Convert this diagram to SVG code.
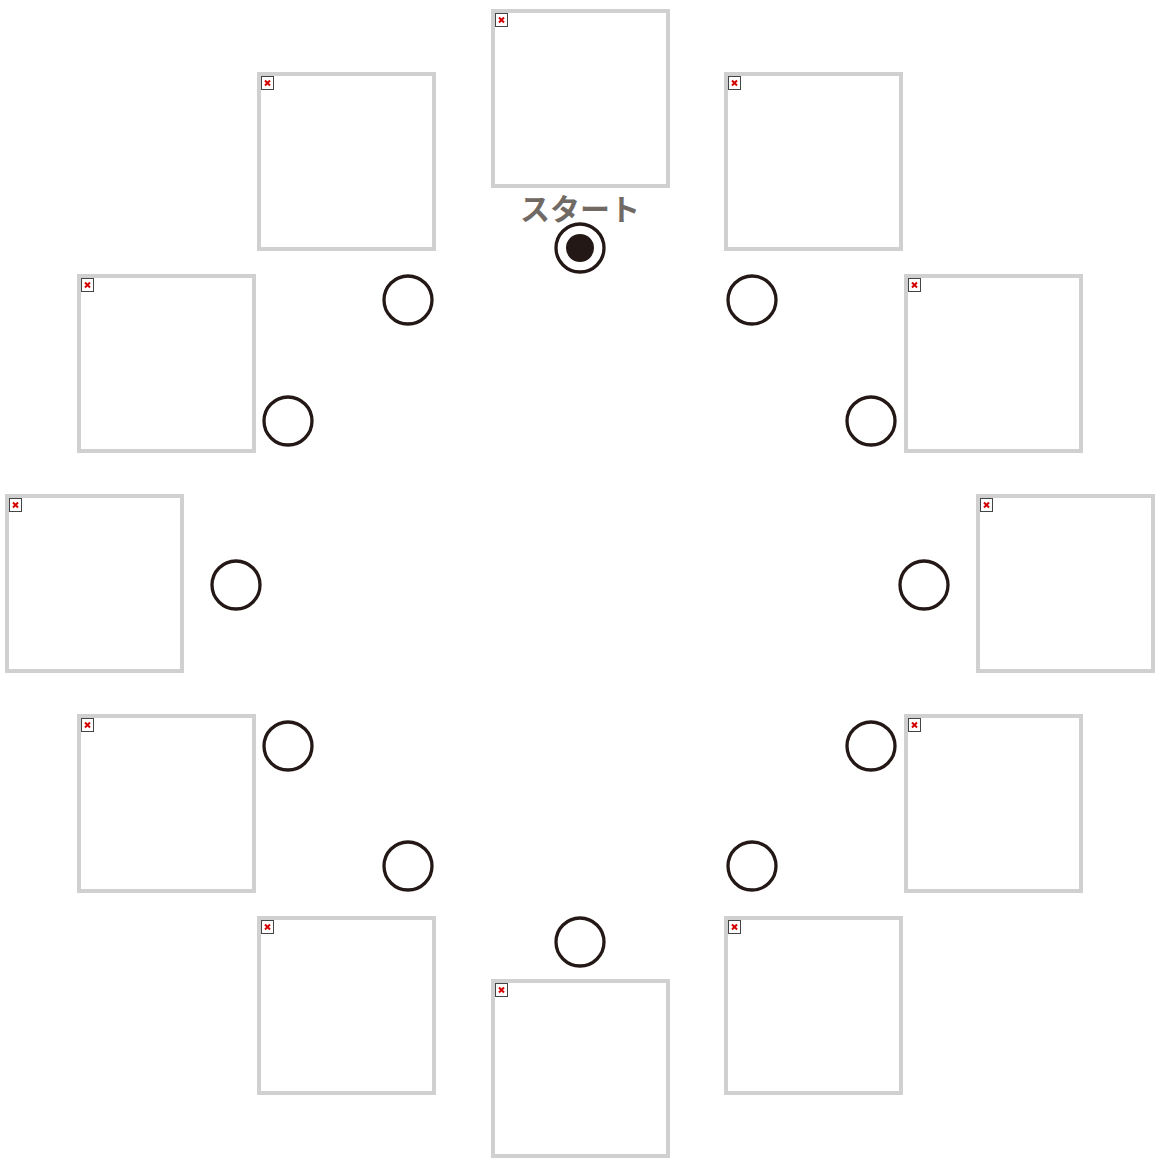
<svg xmlns="http://www.w3.org/2000/svg" width="1155" height="1158" viewBox="0 0 1155 1158">
<style>
.box{fill:#fff;stroke:#d0d0d0;stroke-width:4}
.ico{fill:#fff;stroke:#444;stroke-width:1}
.x{stroke:#d40000;stroke-width:2}
.c{fill:#fff;stroke:#231815;stroke-width:3.3}
.lbl{font-family:"Noto Sans CJK JP","Noto Sans",sans-serif;font-weight:700;font-size:30px;fill:#716a64}
</style>
<defs>
<g id="img">
<rect class="box" x="2" y="2" width="175" height="175"/>
<rect class="ico" x="4.5" y="4.5" width="12" height="13"/>
<path class="x" d="M8 8.5l5 5M13 8.5l-5 5"/>
</g>
</defs>
<rect width="1155" height="1158" fill="#fff"/>
<g id="nodes">
<g id="box-top"><use href="#img" x="491" y="9"/></g>
<g id="box-ul"><use href="#img" x="257" y="72"/></g>
<g id="box-ur"><use href="#img" x="724" y="72"/></g>
<g id="box-lu"><use href="#img" x="77" y="274"/></g>
<g id="box-ru"><use href="#img" x="904" y="274"/></g>
<g id="box-l"><use href="#img" x="5" y="494"/></g>
<g id="box-r"><use href="#img" x="976" y="494"/></g>
<g id="box-ll"><use href="#img" x="77" y="714"/></g>
<g id="box-rl"><use href="#img" x="904" y="714"/></g>
<g id="box-dl"><use href="#img" x="257" y="916"/></g>
<g id="box-dr"><use href="#img" x="724" y="916"/></g>
<g id="box-bottom"><use href="#img" x="491" y="979"/></g>
<g id="start">
<text class="lbl" x="580" y="220" text-anchor="middle">スタート</text>
<circle class="c" cx="580" cy="248" r="24"/>
<circle cx="580" cy="248" r="14" fill="#231815"/>
</g>
<g id="c1"><circle class="c" cx="408" cy="300" r="24"/></g>
<g id="c2"><circle class="c" cx="752" cy="300" r="24"/></g>
<g id="c3"><circle class="c" cx="288" cy="421" r="24"/></g>
<g id="c4"><circle class="c" cx="871" cy="421" r="24"/></g>
<g id="c5"><circle class="c" cx="236" cy="585" r="24"/></g>
<g id="c6"><circle class="c" cx="924" cy="585" r="24"/></g>
<g id="c7"><circle class="c" cx="288" cy="746" r="24"/></g>
<g id="c8"><circle class="c" cx="871" cy="746" r="24"/></g>
<g id="c9"><circle class="c" cx="408" cy="866" r="24"/></g>
<g id="c10"><circle class="c" cx="752" cy="866" r="24"/></g>
<g id="c11"><circle class="c" cx="580" cy="942" r="24"/></g>
</g>
<g id="connectors"></g>
</svg>
